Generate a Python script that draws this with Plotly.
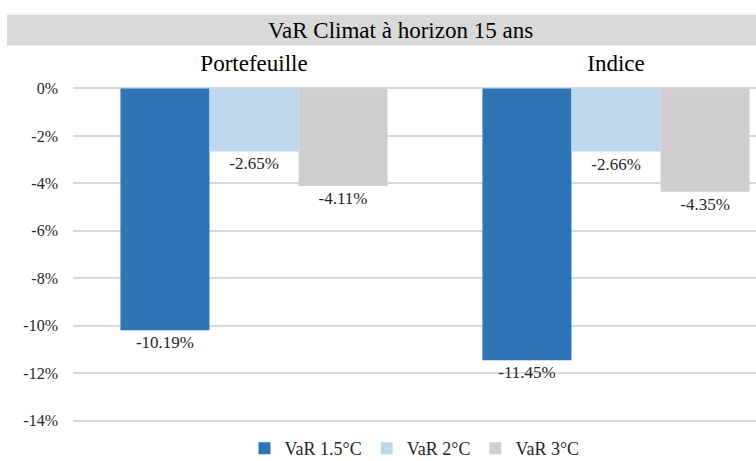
import plotly.graph_objects as go

categories = ["Portefeuille", "Indice"]
series_names = ["VaR 1.5°C", "VaR 2°C", "VaR 3°C"]
var_15 = [-10.19, -11.45]
var_2 = [-2.65, -2.66]
var_3 = [-4.11, -4.35]
colors = ["#2E75B6", "#BDD7EE", "#D0CECE"]
title_text = "VaR Climat à horizon 15 ans"

FONT = "Liberation Serif"
TXT = "#262626"

fig = go.Figure()
for name, vals, col in zip(series_names, [var_15, var_2, var_3], colors):
    fig.add_trace(go.Bar(
        x=categories, y=vals, name=name, marker=dict(color=col, line=dict(width=0)),
        text=[f"{v:.2f}%" for v in vals], textposition="outside",
        textfont=dict(family=FONT, size=17, color=TXT), cliponaxis=False,
    ))

W, H = 756, 461
l, r = 73, 0
top_px, bot_px = 78.5, 435.3
t, b = top_px, H - bot_px
pw = W - l - r
ph = bot_px - top_px

def px_x(p):
    return (p - l) / pw

def px_y(p):
    return (bot_px - p) / ph

fig.update_layout(
    width=W, height=H,
    margin=dict(l=l, r=r, t=t, b=b, pad=0, autoexpand=False),
    plot_bgcolor="white", paper_bgcolor="white",
    barmode="group", bargap=0.262, bargroupgap=0,
    font=dict(family=FONT, color=TXT),
    showlegend=True,
    legend=dict(orientation="h", x=0.5, xanchor="center", y=px_y(449), yanchor="middle",
                font=dict(family=FONT, size=18, color=TXT),
                traceorder="normal", tracegroupgap=0),
    xaxis=dict(side="top", range=[-0.5, -0.5 + pw / 362.0], showgrid=False, automargin=False,
               showline=False, ticks="", tickfont=dict(family=FONT, size=23, color="#000000"),
               ticklabelstandoff=2),
    yaxis=dict(range=[-14.6, 0.4], tickvals=[0, -2, -4, -6, -8, -10, -12, -14],
               ticktext=["0%", "-2%", "-4%", "-6%", "-8%", "-10%", "-12%", "-14%"],
               showgrid=True, gridcolor="#D9D9D9", gridwidth=1.5, automargin=False,
               zeroline=True, zerolinecolor="#D9D9D9", zerolinewidth=1.5,
               tickfont=dict(family=FONT, size=16, color=TXT), ticklabelstandoff=14,
               showline=False),
    shapes=[dict(type="rect", xref="paper", yref="paper",
                 x0=px_x(7), x1=px_x(756), y0=px_y(45), y1=px_y(14),
                 fillcolor="#D9D9D9", line=dict(width=0), layer="below")],
    annotations=[dict(text=title_text, xref="paper", yref="paper",
                      x=px_x(400), y=px_y(29.5), xanchor="center", yanchor="middle",
                      showarrow=False, font=dict(family=FONT, size=23, color="#000000"))],
)

fig.write_html("out.html", config={"displayModeBar": False},
               post_script="document.body.style.margin='0';")
